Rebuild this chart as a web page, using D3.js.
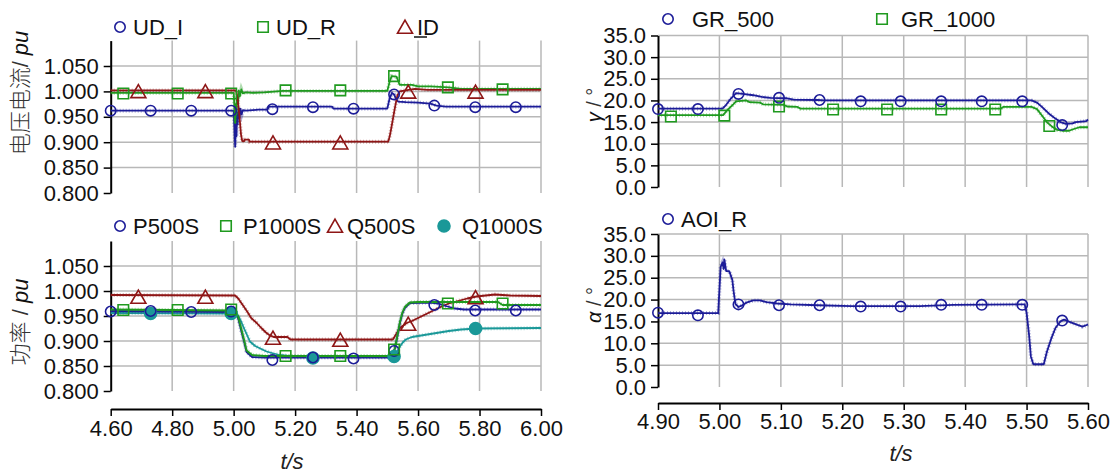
<!DOCTYPE html>
<html>
<head>
<meta charset="utf-8">
<script src="https://cdn.jsdelivr.net/npm/d3@7"></script>
<style>
  body { margin: 0; background: #fff; }
  svg { display: block; font-family: "Liberation Sans", Arial, sans-serif; }
</style>
</head>
<body>
<svg id="chart" width="1112" height="475"></svg>
<script>
// ---------- Upper left: DC voltage / current (pu) ----------
const udiT = [4.600,5.000,5.003,5.005,5.007,5.009,5.011,5.013,5.016,5.019,5.022,5.026,5.030,5.040,5.080,5.110,5.115,5.320,5.325,5.500,5.507,5.515,5.522,5.528,5.535,5.560,5.600,5.640,5.660,5.690,6.000];
const udiV = [0.962,0.962,0.925,0.891,0.950,0.912,0.958,0.935,0.968,0.948,0.966,0.955,0.963,0.962,0.964,0.964,0.970,0.970,0.966,0.966,0.985,0.997,0.994,0.986,0.980,0.979,0.978,0.976,0.972,0.970,0.970];
const udiMkT = [4.600,4.730,4.862,4.992,5.126,5.258,5.390,5.522,5.653,5.786,5.918];
const udiMkV = [0.962,0.962,0.962,0.962,0.965,0.969,0.966,0.994,0.972,0.969,0.969];

const udrT = [4.600,5.000,5.003,5.005,5.007,5.009,5.011,5.014,5.017,5.020,5.025,5.030,5.040,5.060,5.100,5.160,5.500,5.508,5.514,5.530,5.540,5.580,5.600,5.640,5.700,5.740,6.000];
const udrV = [0.997,0.997,0.970,0.938,0.975,0.955,0.990,0.975,1.002,0.990,1.004,0.996,0.998,0.997,0.998,1.001,1.001,1.020,1.030,1.029,1.013,1.013,1.010,1.010,1.008,1.005,1.005];
const udrMkT = [4.641,4.818,4.992,5.169,5.347,5.522,5.697,5.875];
const udrMkV = [0.996,0.996,0.996,1.002,1.002,1.030,1.008,1.004];

const idT = [4.600,5.008,5.013,5.019,5.024,5.028,5.034,5.036,5.050,5.052,5.503,5.508,5.513,5.518,5.523,5.528,5.533,5.540,5.560,5.590,5.630,6.000];
const idV = [1.002,1.002,0.985,0.950,0.915,0.902,0.902,0.905,0.905,0.901,0.901,0.912,0.928,0.945,0.962,0.978,0.992,1.000,1.002,1.005,1.003,1.003];
const idMkT = [4.690,4.908,5.128,5.347,5.568,5.787];
const idMkV = [1.000,1.000,0.899,0.899,0.999,0.999];

// ---------- Lower left: power (pu) ----------
const p500T = [4.600,5.005,5.015,5.025,5.034,5.042,5.060,5.100,5.515,5.525,5.533,5.541,5.549,5.557,5.573,5.640,5.665,5.690,5.720,5.750,6.000];
const p500V = [0.960,0.958,0.945,0.920,0.899,0.878,0.868,0.867,0.867,0.885,0.910,0.936,0.955,0.966,0.976,0.977,0.975,0.970,0.965,0.963,0.963];
const p500MkT = [4.600,4.730,4.862,4.992,5.126,5.258,5.390,5.522,5.653,5.786,5.918];
const p500MkV = [0.959,0.960,0.958,0.959,0.862,0.867,0.865,0.880,0.972,0.961,0.961];

const p1000T = [4.600,5.005,5.015,5.025,5.034,5.042,5.060,5.100,5.515,5.525,5.533,5.541,5.549,5.557,5.573,5.600,5.860,5.875,6.000];
const p1000V = [0.963,0.961,0.948,0.924,0.902,0.881,0.872,0.870,0.870,0.887,0.912,0.938,0.957,0.968,0.977,0.978,0.978,0.972,0.972];
const p1000MkT = [4.641,4.818,4.992,5.169,5.347,5.522,5.697,5.875];
const p1000MkV = [0.962,0.962,0.963,0.870,0.870,0.883,0.975,0.975];

const q500T = [4.600,5.005,5.015,5.025,5.034,5.045,5.057,5.075,5.090,5.105,5.116,5.130,5.175,5.185,5.518,5.525,5.533,5.541,5.552,5.563,5.580,5.600,5.620,5.640,5.660,5.680,5.700,5.730,5.760,5.790,5.820,5.850,5.900,6.000];
const q500V = [0.992,0.991,0.985,0.976,0.968,0.958,0.946,0.936,0.926,0.917,0.912,0.908,0.908,0.903,0.903,0.910,0.918,0.926,0.931,0.936,0.940,0.946,0.952,0.958,0.964,0.970,0.975,0.980,0.985,0.989,0.991,0.993,0.991,0.990];
const q500MkT = [4.690,4.908,5.128,5.347,5.568,5.787];
const q500MkV = [0.988,0.988,0.906,0.902,0.934,0.987];

const q1000T = [4.600,5.005,5.015,5.025,5.034,5.045,5.053,5.070,5.090,5.107,5.130,5.150,5.193,5.520,5.530,5.540,5.550,5.560,5.580,5.620,5.660,5.700,5.740,5.790,6.000];
const q1000V = [0.956,0.955,0.950,0.938,0.925,0.910,0.899,0.890,0.884,0.879,0.875,0.872,0.869,0.868,0.876,0.888,0.897,0.903,0.908,0.912,0.916,0.920,0.923,0.925,0.926];
const q1000MkT = [4.730,4.992,5.258,5.522,5.787];
const q1000MkV = [0.955,0.955,0.866,0.869,0.925];

// ---------- Upper right: extinction angle gamma (deg) ----------
const gr500T = [4.900,5.005,5.011,5.019,5.027,5.038,5.055,5.069,5.083,5.110,5.121,5.160,5.170,5.508,5.517,5.525,5.536,5.547,5.555,5.564,5.575,5.580,5.597,5.600];
const gr500V = [18.1,18.1,19.0,20.5,21.7,21.5,21.2,20.8,20.6,20.5,20.2,20.1,20.0,20.0,19.5,18.5,17.0,15.8,15.0,14.6,14.7,15.0,15.2,15.6];
const gr500MkT = [4.900,4.965,5.031,5.097,5.163,5.230,5.295,5.361,5.427,5.493,5.558];
const gr500MkV = [18.0,18.0,21.5,20.6,20.1,19.8,19.8,19.8,19.8,19.8,14.3];

const gr1000T = [4.900,5.006,5.013,5.022,5.027,5.044,5.049,5.066,5.071,5.105,5.110,5.127,5.132,5.458,5.462,5.508,5.517,5.525,5.533,5.541,5.550,5.558,5.569,5.577,5.586,5.600];
const gr1000V = [16.6,16.6,17.8,19.0,19.8,20.0,19.6,19.5,19.1,19.0,18.6,18.5,18.1,18.1,18.5,18.5,18.0,16.5,15.0,14.0,13.2,13.0,13.0,13.4,13.8,13.8];
const gr1000MkT = [4.921,5.008,5.097,5.185,5.273,5.361,5.449,5.537];
const gr1000MkV = [16.3,16.5,18.6,17.9,17.9,17.9,17.9,14.1];

// ---------- Lower right: firing angle alpha (deg) ----------
const aoiT = [4.900,4.998,5.002,5.005,5.007,5.008,5.011,5.016,5.021,5.023,5.026,5.031,5.036,5.044,5.055,5.066,5.077,5.094,5.116,5.160,5.215,5.326,5.381,5.497,5.500,5.504,5.507,5.511,5.528,5.533,5.540,5.547,5.555,5.561,5.572,5.583,5.591,5.600];
const aoiV = [16.9,16.9,27.5,28.5,27.0,29.2,26.5,26.5,24.5,22.0,19.0,18.3,18.6,19.3,19.8,19.8,19.4,19.1,18.9,18.7,18.5,18.5,18.8,18.9,17.0,12.0,7.0,5.2,5.2,8.0,11.0,13.5,15.0,15.4,14.8,14.2,13.8,14.3];
const aoiMkT = [4.900,4.965,5.031,5.097,5.163,5.230,5.295,5.361,5.427,5.493,5.558];
const aoiMkV = [17.0,16.4,18.9,18.7,18.7,18.4,18.4,18.8,18.8,18.8,15.2];

// ---------- Tick values ----------
const leftXTicks = [4.6, 4.8, 5.0, 5.2, 5.4, 5.6, 5.8, 6.0];
const leftYTicks = [0.80, 0.85, 0.90, 0.95, 1.00, 1.05];
const rightXTicks = [4.9, 5.0, 5.1, 5.2, 5.3, 5.4, 5.5, 5.6];
const rightYTicks = [0, 5, 10, 15, 20, 25, 30, 35];

const BLUE = "#1c1c98", GREEN = "#1f9a1f", RED = "#8e1616", TEAL = "#1a9898";
const GRID = "#b8b8b8";

const svg = d3.select("#chart");

function markerPath(shape, size) {
  const s = size;
  if (shape === "square") return `M${-s/2},${-s/2}h${s}v${s}h${-s}Z`;
  if (shape === "triangle") return `M0,${-s*0.55}L${s*0.6},${s*0.5}L${-s*0.6},${s*0.5}Z`;
  return null;
}

function drawMarker(g, shape, cx, cy, color) {
  if (shape === "circle" || shape === "dot") {
    g.append("circle").attr("cx", cx).attr("cy", cy)
      .attr("r", shape === "dot" ? 6 : 5.2)
      .attr("fill", shape === "dot" ? color : "none")
      .attr("stroke", color).attr("stroke-width", 1.6);
  } else {
    g.append("path").attr("transform", `translate(${cx},${cy})`)
      .attr("d", markerPath(shape, shape === "square" ? 10.5 : 12.5))
      .attr("fill", "none").attr("stroke", color).attr("stroke-width", 1.6);
  }
}

function panel(cfg) {
  const g = svg.append("g");
  const x = d3.scaleLinear().domain(cfg.xd).range([cfg.left, cfg.right]);
  const y = d3.scaleLinear().domain(cfg.yd).range([cfg.bottom, cfg.top]);

  // grid
  g.append("g").selectAll("line").data(cfg.gridX).join("line")
    .attr("x1", d => x(d)).attr("x2", d => x(d))
    .attr("y1", y(cfg.yd[1])).attr("y2", y(cfg.yd[0]))
    .attr("stroke", GRID).attr("stroke-width", 1.5);
  g.append("g").selectAll("line").data(cfg.gridY).join("line")
    .attr("x1", x(cfg.xd[0])).attr("x2", x(cfg.xd[1]))
    .attr("y1", d => y(d)).attr("y2", d => y(d))
    .attr("stroke", GRID).attr("stroke-width", 1.5);

  // y axis
  const ya = g.append("g").attr("transform", `translate(${cfg.left},0)`)
    .call(d3.axisLeft(y).tickValues(cfg.yTicks).tickFormat(d3.format(cfg.yFmt))
      .tickSize(7).tickSizeOuter(0).tickPadding(5));
  ya.select(".domain").attr("stroke", "#000").attr("stroke-width", 2);
  ya.selectAll(".tick line").attr("stroke", "#000").attr("stroke-width", 1.5);
  ya.selectAll(".tick text").attr("font-size", 22).attr("fill", "#111")
    .attr("font-family", "'Liberation Sans', Arial, sans-serif");

  // x axis (detached, below the plot)
  if (cfg.xAxisY) {
    const xa = g.append("g").attr("transform", `translate(0,${cfg.xAxisY})`)
      .call(d3.axisBottom(x).tickValues(cfg.xTicks).tickFormat(d3.format(".2f"))
        .tickSize(7).tickSizeOuter(0).tickPadding(cfg.xPad));
    xa.select(".domain").attr("stroke", "#000").attr("stroke-width", 2);
    xa.selectAll(".tick line").attr("stroke", "#000").attr("stroke-width", 1.5);
    xa.selectAll(".tick text").attr("font-size", 22).attr("fill", "#111")
      .attr("font-family", "'Liberation Sans', Arial, sans-serif");
  }

  // series: textured band plus solid core line
  const line = d3.line().x(d => x(d[0])).y(d => y(d[1]));
  cfg.series.forEach(s => {
    const pts = d3.zip(s.t, s.v);
    g.append("path").attr("d", line(pts)).attr("fill", "none")
      .attr("stroke", s.color).attr("stroke-width", 4).attr("stroke-opacity", 0.35)
      .attr("stroke-dasharray", "1 2");
    g.append("path").attr("d", line(pts)).attr("fill", "none")
      .attr("stroke", s.color).attr("stroke-width", 1.8).attr("stroke-linejoin", "round");
  });
  cfg.series.forEach(s => {
    const mg = g.append("g");
    d3.zip(s.mt, s.mv).forEach(([t, v]) => drawMarker(mg, s.shape, x(t), y(v), s.color));
  });

  // legend
  cfg.legend.forEach(l => {
    const lg = g.append("g");
    drawMarker(lg, l.shape, l.mx, l.y, l.color);
    lg.append("text").attr("x", l.tx).attr("y", l.y).attr("dy", "0.36em")
      .attr("font-size", 22).attr("fill", "#111").text(l.label);
    if (l.underline) {
      lg.append("line").attr("x1", l.tx - 3).attr("x2", l.tx + 10)
        .attr("y1", l.y + 10).attr("y2", l.y + 10)
        .attr("stroke", "#111").attr("stroke-width", 1.5);
    }
  });
  return { x, y };
}

// Upper left
panel({
  left: 110.7, right: 541, top: 40.6, bottom: 193,
  xd: [4.6, 6.0], yd: [0.8, 1.1],
  gridX: leftXTicks.slice(1), gridY: [0.85, 0.90, 0.95, 1.00, 1.05],
  yTicks: leftYTicks, yFmt: ".3f",
  series: [
    { t: udiT, v: udiV, mt: udiMkT, mv: udiMkV, color: BLUE, shape: "circle" },
    { t: udrT, v: udrV, mt: udrMkT, mv: udrMkV, color: GREEN, shape: "square" },
    { t: idT, v: idV, mt: idMkT, mv: idMkV, color: RED, shape: "triangle" }
  ],
  legend: [
    { shape: "circle", color: BLUE, mx: 120, tx: 133, y: 27, label: "UD_I" },
    { shape: "square", color: GREEN, mx: 263, tx: 276, y: 27, label: "UD_R" },
    { shape: "triangle", color: RED, mx: 405, tx: 417, y: 27, label: "ID", underline: true }
  ]
});

// Lower left
panel({
  left: 110.7, right: 541, top: 241, bottom: 391,
  xd: [4.6, 6.0], yd: [0.8, 1.1],
  gridX: leftXTicks.slice(1), gridY: [0.85, 0.90, 0.95, 1.00, 1.05],
  yTicks: leftYTicks, yFmt: ".3f",
  xAxisY: 409, xTicks: leftXTicks, xPad: 4,
  series: [
    { t: q500T, v: q500V, mt: q500MkT, mv: q500MkV, color: RED, shape: "triangle" },
    { t: q1000T, v: q1000V, mt: q1000MkT, mv: q1000MkV, color: TEAL, shape: "dot" },
    { t: p500T, v: p500V, mt: p500MkT, mv: p500MkV, color: BLUE, shape: "circle" },
    { t: p1000T, v: p1000V, mt: p1000MkT, mv: p1000MkV, color: GREEN, shape: "square" }
  ],
  legend: [
    { shape: "circle", color: BLUE, mx: 120, tx: 133, y: 226, label: "P500S" },
    { shape: "square", color: GREEN, mx: 226, tx: 243, y: 226, label: "P1000S" },
    { shape: "triangle", color: RED, mx: 335, tx: 347, y: 226, label: "Q500S" },
    { shape: "dot", color: TEAL, mx: 444, tx: 462, y: 226, label: "Q1000S" }
  ]
});

// Upper right
panel({
  left: 658, right: 1088, top: 35.5, bottom: 187,
  xd: [4.9, 5.6], yd: [0, 35],
  gridX: rightXTicks.slice(1), gridY: rightYTicks.slice(1),
  yTicks: rightYTicks, yFmt: ".1f",
  series: [
    { t: gr1000T, v: gr1000V, mt: gr1000MkT, mv: gr1000MkV, color: GREEN, shape: "square" },
    { t: gr500T, v: gr500V, mt: gr500MkT, mv: gr500MkV, color: BLUE, shape: "circle" }
  ],
  legend: [
    { shape: "circle", color: BLUE, mx: 668, tx: 692, y: 19, label: "GR_500" },
    { shape: "square", color: GREEN, mx: 882, tx: 901, y: 19, label: "GR_1000" }
  ]
});

// Lower right
panel({
  left: 658, right: 1088, top: 234, bottom: 387,
  xd: [4.9, 5.6], yd: [0, 35],
  gridX: rightXTicks.slice(1), gridY: rightYTicks.slice(1),
  yTicks: rightYTicks, yFmt: ".1f",
  xAxisY: 403, xTicks: rightXTicks, xPad: 3,
  series: [
    { t: aoiT, v: aoiV, mt: aoiMkT, mv: aoiMkV, color: BLUE, shape: "circle" }
  ],
  legend: [
    { shape: "circle", color: BLUE, mx: 668, tx: 681, y: 219, label: "AOI_R" }
  ]
});

// Axis titles
function vTitle(cx, cy, size, parts) {
  const t = svg.append("text")
    .attr("transform", `translate(${cx},${cy}) rotate(-90)`)
    .attr("text-anchor", "middle").attr("dy", "0.35em")
    .attr("font-size", size).attr("fill", "#333");
  parts.forEach(p => {
    const s = t.append("tspan").text(p.text);
    if (p.italic) s.attr("font-style", "italic").attr("fill", "#111");
    if (p.cjk) s.attr("font-family", "'Noto Sans CJK SC', sans-serif").attr("font-weight", 300);
  });
}
vTitle(20, 93, 22, [{ text: "电压电流", cjk: true }, { text: "/ " }, { text: "pu", italic: true }]);
vTitle(20, 322, 22, [{ text: "功率", cjk: true }, { text: " / " }, { text: "pu", italic: true }]);
vTitle(594, 105, 20, [{ text: "γ", italic: true }, { text: " / °" }]);
vTitle(594, 305, 20, [{ text: "α", italic: true }, { text: " / °" }]);

svg.append("text").attr("x", 292).attr("y", 461).attr("dy", "0.35em")
  .attr("text-anchor", "middle").attr("font-size", 22).attr("font-style", "italic")
  .attr("fill", "#222").text("t/s");
svg.append("text").attr("x", 901).attr("y", 453).attr("dy", "0.35em")
  .attr("text-anchor", "middle").attr("font-size", 22).attr("font-style", "italic")
  .attr("fill", "#222").text("t/s");
</script>
</body>
</html>
